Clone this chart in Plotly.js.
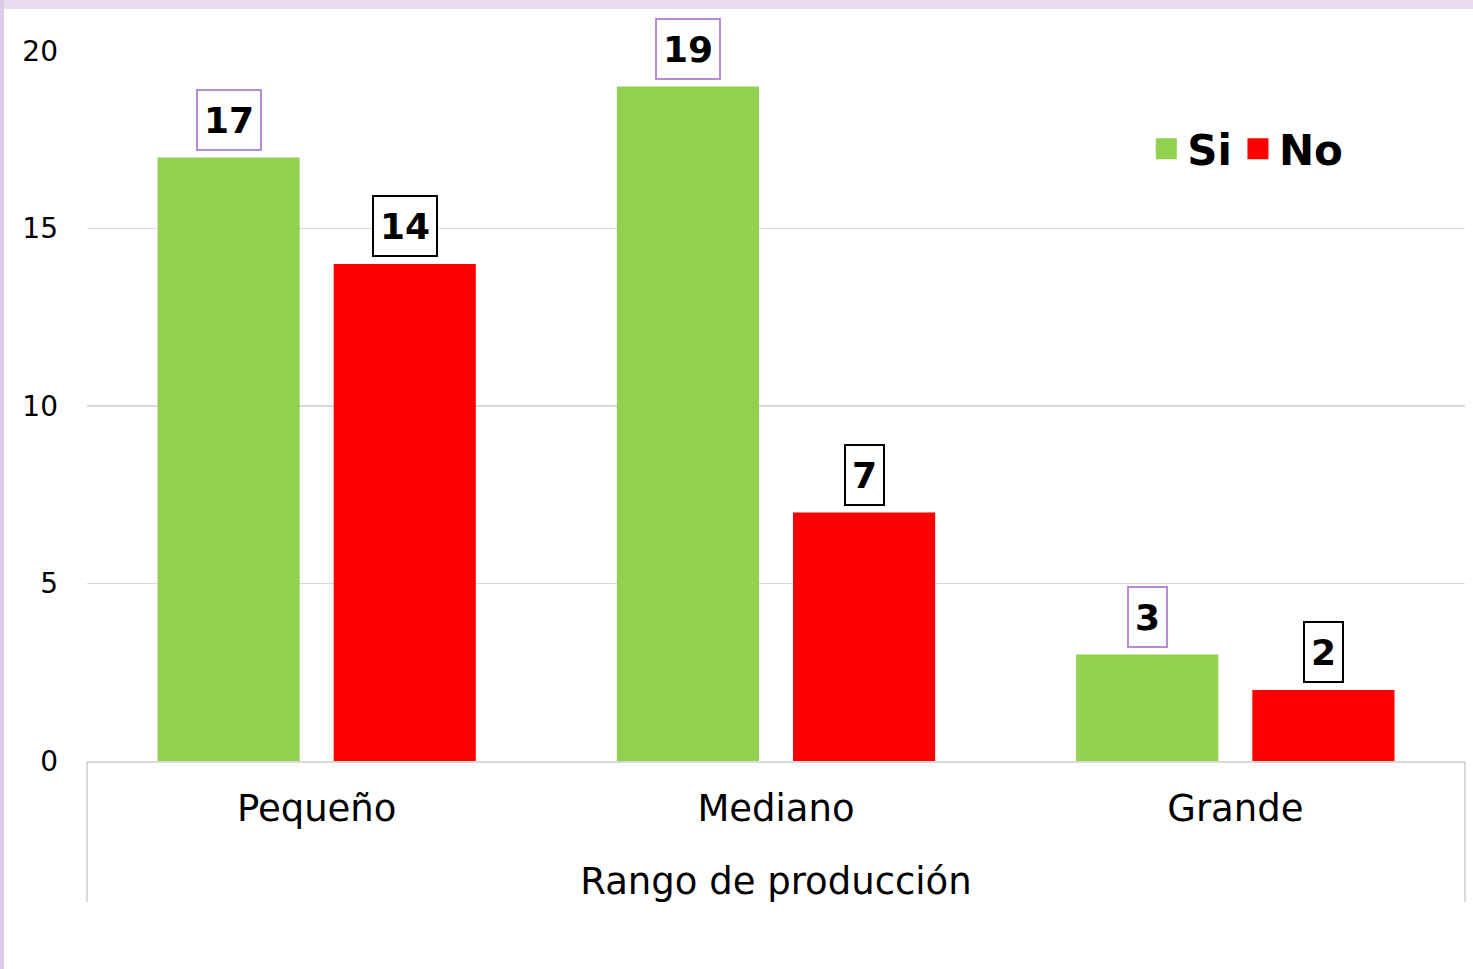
<!DOCTYPE html>
<html>
<head>
<meta charset="utf-8">
<script src="https://cdn.plot.ly/plotly-3.0.1.min.js"></script>
<style>
  html, body { margin: 0; padding: 0; background: #ffffff; }
  #chart { position: absolute; left: 0; top: 0; width: 1473px; height: 969px; }
  #bandTop { position: absolute; left: 0; top: 0; width: 1473px; height: 8px; background: #e8dcee; border-bottom: 1px solid #e2e2e2; z-index: 5; }
  #bandLeft { position: absolute; left: 0; top: 0; width: 4px; height: 969px; background: #ddcce8; z-index: 5; }
</style>
</head>
<body>
<div id="chart"></div>
<div id="bandTop"></div>
<div id="bandLeft"></div>
<script>
// ---- data ----
const categories = ["Pequeño", "Mediano", "Grande"];
const seriesNames = ["Si", "No"];
const siValues = [17, 19, 3];
const noValues = [14, 7, 2];
const yTicks = [0, 5, 10, 15, 20];
const xAxisTitle = "Rango de producción";

// ---- style ----
const FONT = "DejaVu Sans";
const GREEN = "#92d050";
const RED = "#ff0000";
const GRID = "#d9d9d9";
const margin = { l: 87, r: 8, t: 51, b: 208 };
const W = 1473, H = 969;
const bargap = 0.233, bargroupgap = 0.193;

const plotW = W - margin.l - margin.r;
const catW = plotW / categories.length;
const slotW = catW * (1 - bargap) / 2;
const shift = slotW / 2;

const traces = [
  { type: "bar", name: seriesNames[0], x: categories, y: siValues,
    marker: { color: GREEN }, showlegend: false, hoverinfo: "x+y" },
  { type: "bar", name: seriesNames[1], x: categories, y: noValues,
    marker: { color: RED }, showlegend: false, hoverinfo: "x+y" },
  // legend-only entries (larger square swatches)
  { type: "scatter", mode: "markers", name: seriesNames[0], x: [null], y: [null],
    marker: { symbol: "square", size: 16, color: GREEN, line: { color: GREEN, width: 5 } } },
  { type: "scatter", mode: "markers", name: seriesNames[1], x: [null], y: [null],
    marker: { symbol: "square", size: 16, color: RED, line: { color: RED, width: 5 } } }
];

const annotations = [];
function addLabels(values, dir, border) {
  values.forEach((v, i) => {
    annotations.push({
      x: categories[i], y: v, xref: "x", yref: "y",
      text: "<b>" + v + "</b>", showarrow: false,
      xanchor: "center", yanchor: "bottom",
      xshift: dir * shift, yshift: 7,
      font: { family: FONT, size: 36, color: "#000000" },
      height: 46, valign: "middle",
      bordercolor: border, borderwidth: 2, borderpad: 6, bgcolor: "#ffffff"
    });
  });
}
addLabels(siValues, -1, "#b48ed0");
addLabels(noValues, 1, "#000000");

const layout = {
  width: W, height: H,
  margin: margin,
  paper_bgcolor: "#ffffff", plot_bgcolor: "#ffffff",
  font: { family: FONT, color: "#000000" },
  barmode: "group", bargap: bargap, bargroupgap: bargroupgap,
  showlegend: true,
  legend: {
    orientation: "h", x: 0.768, y: 0.862, xanchor: "left", yanchor: "middle",
    font: { family: FONT, size: 42, color: "#000000", weight: "bold" },
    bgcolor: "rgba(0,0,0,0)", itemwidth: 32, tracegroupgap: 0
  },
  xaxis: {
    type: "category", categoryorder: "array", categoryarray: categories,
    showline: true, linecolor: GRID, linewidth: 2,
    ticks: "", tickfont: { family: FONT, size: 37, color: "#000000" },
    ticklabelstandoff: 14,
    title: { text: xAxisTitle, font: { family: FONT, size: 37, color: "#000000" }, standoff: 39 },
    fixedrange: true
  },
  yaxis: {
    range: [0, 20], tickvals: yTicks, ticktext: yTicks.map(String),
    showgrid: true, gridcolor: GRID, gridwidth: 1.5,
    zeroline: false, showline: false, ticks: "",
    tickfont: { family: FONT, size: 28, color: "#000000" },
    ticklabelstandoff: 28,
    fixedrange: true
  },
  shapes: [
    { type: "line", xref: "paper", yref: "paper", x0: 0, x1: 0, y0: 0, y1: -(902 - 761) / 710,
      line: { color: GRID, width: 2 } },
    { type: "line", xref: "paper", yref: "paper", x0: 1, x1: 1, y0: 0, y1: -(902 - 761) / 710,
      line: { color: GRID, width: 2 } }
  ],
  annotations: annotations
};

Plotly.newPlot("chart", traces, layout, { displayModeBar: false, staticPlot: true });
</script>
</body>
</html>
